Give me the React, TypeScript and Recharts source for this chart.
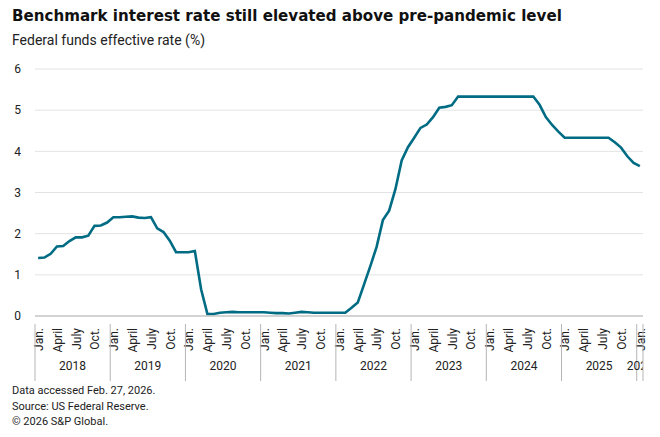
import * as React from 'react'
import { ComposedChart, Line, XAxis, YAxis, CartesianGrid } from 'recharts'

// Monthly federal funds effective rate, Jan. 2018 – Jan. 2026 (%)
const rates2018 = [1.41, 1.42, 1.51, 1.69, 1.7, 1.82, 1.91, 1.91, 1.95, 2.19, 2.2, 2.27]
const rates2019 = [2.4, 2.4, 2.41, 2.42, 2.39, 2.38, 2.4, 2.13, 2.04, 1.83, 1.55, 1.55]
const rates2020 = [1.55, 1.58, 0.65, 0.05, 0.05, 0.08, 0.09, 0.1, 0.09, 0.09, 0.09, 0.09]
const rates2021 = [0.09, 0.08, 0.07, 0.07, 0.06, 0.08, 0.1, 0.09, 0.08, 0.08, 0.08, 0.08]
const rates2022 = [0.08, 0.08, 0.2, 0.33, 0.77, 1.21, 1.68, 2.33, 2.56, 3.08, 3.78, 4.1]
const rates2023 = [4.33, 4.57, 4.65, 4.83, 5.06, 5.08, 5.12, 5.33, 5.33, 5.33, 5.33, 5.33]
const rates2024 = [5.33, 5.33, 5.33, 5.33, 5.33, 5.33, 5.33, 5.33, 5.13, 4.83, 4.64, 4.48]
const rates2025 = [4.33, 4.33, 4.33, 4.33, 4.33, 4.33, 4.33, 4.33, 4.22, 4.09, 3.88, 3.72]
const rates2026 = [3.64]

const years = [2018, 2019, 2020, 2021, 2022, 2023, 2024, 2025, 2026]
const yearRates = [rates2018, rates2019, rates2020, rates2021, rates2022, rates2023, rates2024, rates2025, rates2026]
const monthLabels: Record<number, string> = { 0: 'Jan.', 3: 'April', 6: 'July', 9: 'Oct.' }
const yTicks = [0, 1, 2, 3, 4, 5, 6]

const data = years.flatMap((yr, i) =>
  yearRates[i].map((rate, m) => ({ date: `${yr}-${String(m + 1).padStart(2, '0')}`, rate })),
)

const CHART_W = 660
const CHART_H = 437
const PLOT_LEFT = 35
const PLOT_RIGHT = 17
const PLOT_W = CHART_W - PLOT_LEFT - PLOT_RIGHT
const BAND = PLOT_W / data.length
const FONT = 'Roboto, "Noto Sans", sans-serif'
const LINE_COLOR = '#006c84'

function MonthTick(props: any) {
  const { x, y, payload } = props
  const [yrStr, mStr] = String(payload.value).split('-')
  const m = Number(mStr) - 1
  const label = monthLabels[m]
  const isLast = payload.value === data[data.length - 1].date
  const left = x - BAND / 2
  const yearMonths = data.filter((d) => d.date.startsWith(yrStr)).length
  const clipId = `clip-${yrStr}`
  return (
    <g>
      {label && (
        <text
          transform={`translate(${x + 0.5},${y + 4}) rotate(-90)`}
          textAnchor="end"
          dy="0.36em"
          fontSize={12}
          fill="#222"
          fontFamily={FONT}
        >
          {label}
        </text>
      )}
      {m === 0 && (
        <>
          <line x1={left} x2={left} y1={y} y2={y + 57} stroke="#b5b5b5" strokeWidth={1} />
          <clipPath id={clipId}>
            <rect x={left - 40} y={y} width={yearMonths * BAND + 40} height={70} />
          </clipPath>
          <text
            x={left + (BAND * yearMonths) / 2 + (yearMonths === 1 ? 0.5 : 0)}
            y={y + 46}
            textAnchor="middle"
            fontSize={12}
            fill="#222"
            fontFamily={FONT}
            clipPath={`url(#${clipId})`}
          >
            {yrStr}
          </text>
        </>
      )}
      {isLast && <line x1={x + BAND / 2} x2={x + BAND / 2} y1={y} y2={y + 57} stroke="#b5b5b5" strokeWidth={1} />}
    </g>
  )
}

export default function App() {
  return (
    <div
      style={{
        position: 'absolute',
        left: 0,
        top: 0,
        width: CHART_W,
        height: CHART_H,
        background: '#fff',
        fontFamily: FONT,
        color: '#111',
      }}
    >
      <div
        style={{
          position: 'absolute',
          left: 12,
          top: 6,
          fontSize: 15.1,
          fontWeight: 700,
          lineHeight: '20px',
          whiteSpace: 'nowrap',
          fontFamily: '"DejaVu Sans", sans-serif',
        }}
      >
        Benchmark interest rate still elevated above pre-pandemic level
      </div>
      <div style={{ position: 'absolute', left: 12, top: 31, fontSize: 14, lineHeight: '18px', color: '#222' }}>
        Federal funds effective rate (%)
      </div>
      <ComposedChart
        width={CHART_W}
        height={CHART_H}
        data={data}
        margin={{ top: 69, right: PLOT_RIGHT, left: 0, bottom: 64 }}
      >
        <CartesianGrid vertical={false} stroke="#e3e3e3" strokeWidth={1} />
        <XAxis
          dataKey="date"
          scale="band"
          interval={0}
          height={57}
          axisLine={{ stroke: '#b5b5b5' }}
          tickLine={false}
          tick={<MonthTick />}
        />
        <YAxis
          domain={[0, 6]}
          ticks={yTicks}
          width={PLOT_LEFT}
          axisLine={false}
          tickLine={false}
          tickSize={0}
          tickMargin={14}
          tick={{ fontSize: 12, fill: '#222', fontFamily: FONT }}
        />
        <Line
          type="linear"
          dataKey="rate"
          stroke={LINE_COLOR}
          strokeWidth={2.6}
          dot={false}
          isAnimationActive={false}
        />
      </ComposedChart>
      <div style={{ position: 'absolute', left: 12, top: 383, fontSize: 11, lineHeight: '15.6px', color: '#222' }}>
        <div>Data accessed Feb. 27, 2026.</div>
        <div>Source: US Federal Reserve.</div>
        <div>© 2026 S&amp;P Global.</div>
      </div>
    </div>
  )
}
